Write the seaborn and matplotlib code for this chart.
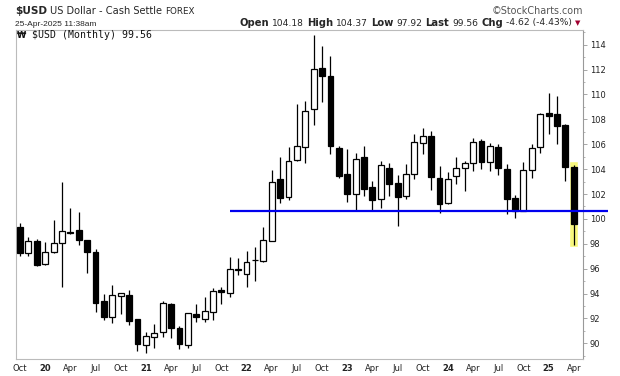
import numpy as np
import pandas as pd
import seaborn as sns
import matplotlib
matplotlib.use("Agg")
import matplotlib.pyplot as plt
from matplotlib import font_manager
from matplotlib.ticker import MultipleLocator
from matplotlib.transforms import IdentityTransform

# monthly candles, Oct 2019 .. Apr 2025
months = pd.period_range("2019-10", "2025-04", freq="M")
opens = [99.34, 97.23, 98.22, 96.40, 97.31, 98.03, 98.96, 99.08, 98.27, 97.33,
         93.40, 92.08, 93.77, 93.85, 91.95, 89.86, 90.47, 90.88, 93.13, 91.20,
         89.90, 92.32, 91.98, 92.54, 94.25, 94.07, 95.94, 95.59, 96.72, 96.64,
         98.25, 103.18, 101.73, 104.70, 105.75, 108.80, 112.10, 111.46, 105.67, 103.58,
         102.02, 104.97, 102.56, 101.62, 104.09, 102.85, 101.81, 103.58, 106.07, 106.63,
         103.26, 101.30, 103.42, 104.06, 104.46, 106.23, 104.54, 105.77, 103.98, 101.65,
         100.63, 103.90, 105.75, 108.48, 108.40, 107.54, 104.18]
highs = [99.69, 98.51, 98.35, 98.14, 99.91, 102.96, 100.84, 100.55, 98.30, 97.58,
         93.96, 94.68, 94.03, 94.28, 91.97, 90.90, 91.55, 93.40, 93.26, 91.39,
         92.45, 93.16, 93.74, 94.47, 94.55, 96.93, 96.83, 97.41, 97.74, 99.34,
         103.93, 104.97, 105.77, 109.23, 109.47, 114.78, 113.89, 113.09, 105.83, 105.61,
         105.29, 105.86, 103.04, 104.68, 104.49, 103.52, 104.41, 106.79, 107.30, 107.06,
         104.25, 103.74, 104.97, 104.68, 106.50, 106.42, 106.07, 105.99, 104.38, 101.92,
         104.54, 105.99, 108.48, 110.14, 109.87, 107.60, 104.37]
lows = [97.01, 97.04, 96.24, 96.32, 97.28, 94.55, 98.78, 97.87, 95.62, 92.51,
        91.90, 91.65, 92.38, 91.44, 89.40, 89.19, 89.59, 90.53, 90.40, 89.51,
        89.59, 91.73, 91.73, 91.87, 93.16, 93.74, 95.49, 94.55, 95.03, 96.53,
        98.20, 101.25, 101.54, 104.65, 104.52, 107.57, 109.42, 105.24, 103.31, 101.38,
        100.68, 101.86, 100.68, 100.90, 101.86, 99.45, 101.62, 103.18, 105.24, 102.35,
        100.50, 101.22, 102.83, 102.27, 103.82, 103.98, 103.87, 103.52, 100.39, 100.10,
        100.60, 103.31, 105.32, 106.82, 106.04, 103.07, 97.92]
closes = [97.28, 98.22, 96.32, 97.33, 98.03, 99.02, 98.90, 98.27, 97.31, 93.26,
          92.08, 93.85, 94.01, 91.82, 89.91, 90.56, 90.80, 93.21, 91.20, 89.97,
          92.40, 92.08, 92.57, 94.17, 94.09, 95.94, 95.86, 96.50, 96.66, 98.27,
          102.93, 101.65, 104.62, 105.83, 108.67, 112.02, 111.46, 105.88, 103.47, 102.02,
          104.78, 102.43, 101.54, 104.30, 102.83, 101.78, 103.58, 106.15, 106.63, 103.39,
          101.22, 103.18, 104.06, 104.46, 106.15, 104.60, 105.83, 104.06, 101.62, 100.63,
          103.90, 105.67, 108.40, 108.29, 107.49, 104.14, 99.56]

support_level = 100.63
support_from = pd.Period("2021-11", freq="M")

sns.set_theme(style="white")
plt.rcParams["font.family"] = ["DejaVu Sans"]

installed = {f.name for f in font_manager.fontManager.ttflist}
if "Liberation Sans Narrow" in installed:
    narrow = dict(family="Liberation Sans Narrow", fontsize=6.8)
else:
    narrow = dict(family="Liberation Sans", fontsize=6.0)

df = pd.DataFrame({"month": months, "open": opens, "high": highs,
                   "low": lows, "close": closes})
df["pos"] = np.arange(len(df))
df["up"] = df["close"] >= df["open"]
df["body_lo"] = df[["open", "close"]].min(axis=1)
df["body_h"] = (df["close"] - df["open"]).abs().clip(lower=0.05)

W, H = 620, 376
fig = plt.figure(figsize=(W / 100, H / 100), dpi=100)
fig.patch.set_facecolor("white")
ax = fig.add_axes([16 / W, 17 / H, 567 / W, 329 / H])
ax.set_facecolor("white")

# highlight on the latest candle
last = df.iloc[-1]
ax.bar(last["pos"], last["high"] - last["low"] + 0.45, bottom=last["low"] - 0.2,
       width=1.1, color="#f7f77c", zorder=1)

ax.vlines(df["pos"], df["low"], df["high"], color="black", lw=0.9, zorder=2)
ax.bar(df["pos"], df["body_h"], bottom=df["body_lo"], width=0.7,
       color=np.where(df["up"], "white", "black"), edgecolor="black",
       linewidth=0.9, zorder=3)

start = df.loc[df["month"] == support_from, "pos"].iloc[0]
ax.hlines(support_level, start, 70.1, color="#0000ee", lw=1.6,
          clip_on=False, zorder=4)

ax.set_xlim(-0.48, 67.1)
ax.set_ylim(88.74, 115.18)

# right price axis
ax.yaxis.tick_right()
ax.set_yticks(np.arange(90, 115, 2))
ax.yaxis.set_minor_locator(MultipleLocator(1))
ax.tick_params(axis="y", which="major", length=3, width=0.6, color="#999999",
               labelsize=6, labelcolor="#222222", pad=2, direction="out")
ax.tick_params(axis="y", which="minor", length=1.5, width=0.6, color="#aaaaaa",
               direction="out")

# quarterly month labels, year number on January
qmask = df["month"].dt.month.isin([1, 4, 7, 10])
qpos = df.loc[qmask, "pos"].tolist()
qlab = [f"{m.year % 100:02d}" if m.month == 1 else m.strftime("%b")
        for m in df.loc[qmask, "month"]]
ax.set_xticks(qpos)
ax.set_xticklabels(qlab)
ax.set_xticks(df["pos"], minor=True)
ax.tick_params(axis="x", which="major", length=1.5, width=0.6, color="#cccccc",
               labelsize=6, labelcolor="#222222", pad=2.2)
ax.tick_params(axis="x", which="minor", length=1, width=0.5, color="#dddddd")
for t, lab in zip(ax.get_xticklabels(), qlab):
    if lab.isdigit():
        t.set_fontweight("bold")

for s in ["left", "top", "bottom"]:
    ax.spines[s].set_color("#bbbbbb")
    ax.spines[s].set_linewidth(0.8)
ax.spines["right"].set_color("#999999")
ax.spines["right"].set_linewidth(0.8)

ax.text((17 - 16) / 567, (359 - 35.5) / 329, "\u20a9", transform=ax.transAxes,
        fontsize=6, fontweight="bold", va="center", ha="left", color="#111111")
ax.text((32 - 16) / 567, (359 - 35.5) / 329, "$USD (Monthly) 99.56",
        transform=ax.transAxes, family="DejaVu Sans Mono", fontsize=7.1,
        va="center", ha="left", color="#111111")

# header rows
renderer = fig.canvas.get_renderer()
ident = IdentityTransform()


def row(parts, x, y, align="left", gap=3):
    items = []
    for s, kw in parts:
        t = fig.text(0, H - y, s, transform=ident, va="baseline", **kw)
        items.append(t)
    widths = [t.get_window_extent(renderer).width for t in items]
    total = sum(widths) + gap * (len(items) - 1)
    cx = x if align == "left" else x - total
    for t, w in zip(items, widths):
        t.set_x(cx)
        cx += w + gap


row([("$USD", dict(fontsize=7.6, fontweight="bold")),
     ("US Dollar - Cash Settle", dict(fontsize=7.1)),
     ("FOREX", dict(fontsize=6.3))], 15, 13.5, gap=3)
fig.text(583, H - 13.5, "\u00a9StockCharts.com", transform=ident, ha="right",
         va="baseline", fontsize=6.9, color="#555555")
fig.text(15, H - 26, "25-Apr-2025 11:38am", transform=ident, va="baseline",
         **narrow)
b = dict(fontsize=7.2, fontweight="bold")
n = dict(fontsize=6.6)
row([("Open", b), ("104.18", n), ("High", b), ("104.37", n), ("Low", b),
     ("97.92", n), ("Last", b), ("99.56", n), ("Chg", b), ("-4.62 (-4.43%)", n)],
    572, 25.5, align="right", gap=3)
fig.text(574.5, H - 25, "\u25bc", transform=ident, va="baseline", fontsize=5,
         color="#a00030")

fig.savefig("out.png", dpi=100)
